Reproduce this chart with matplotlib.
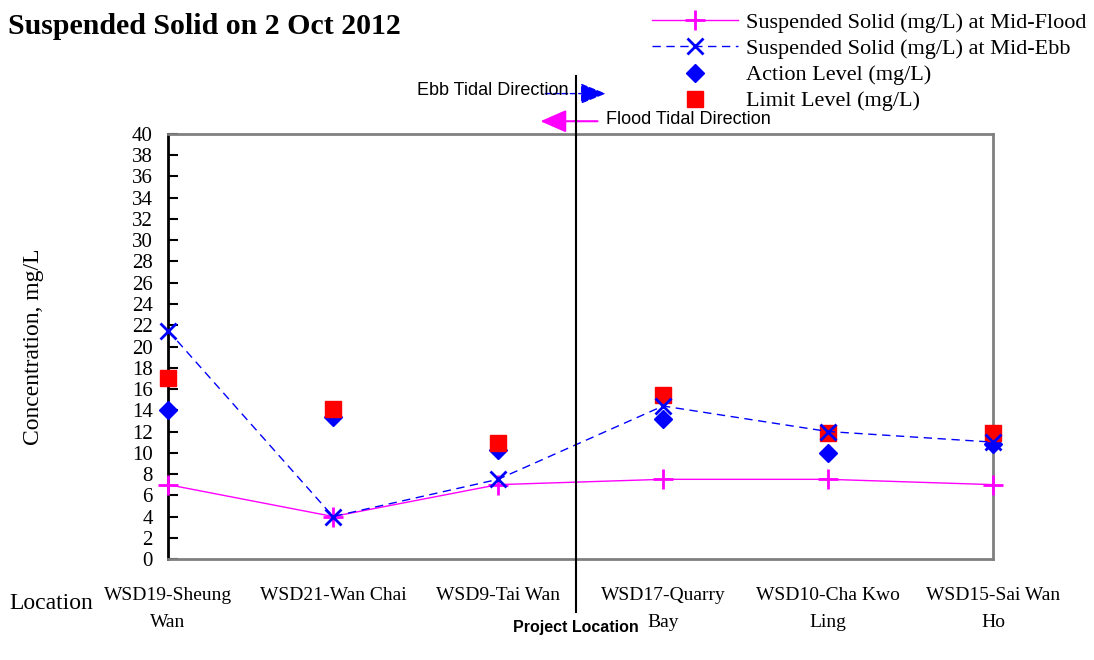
import matplotlib.pyplot as plt

plt.rcParams['font.family'] = ['Liberation Serif', 'DejaVu Serif']

# monitoring stations along the shore (west -> east)
stations = ["WSD19-Sheung\nWan", "WSD21-Wan Chai", "WSD9-Tai Wan",
            "WSD17-Quarry\nBay", "WSD10-Cha Kwo\nLing", "WSD15-Sai Wan\nHo"]
ss_flood = [7.0, 4.0, 7.0, 7.5, 7.5, 7.0]
ss_ebb = [21.5, 4.0, 7.5, 14.4, 12.0, 11.0]
action_level = [14.0, 13.4, 10.3, 13.2, 10.0, 10.8]
limit_level = [17.0, 14.1, 10.9, 15.4, 11.9, 11.9]
project_x = 2.47  # project site lies between WSD9 and WSD17

x = list(range(len(stations)))

fig = plt.figure(figsize=(10.94, 6.6), dpi=100)
ax = fig.add_axes([0.1536, 0.153, 0.7541, 0.644])

l1, = ax.plot(x, ss_flood, color="#ff00ff", lw=1, marker="+", ms=14, mew=2,
              clip_on=False, zorder=4)
l2, = ax.plot(x, ss_ebb, color="#0000ff", lw=1, ls=(0, (6, 4)), marker="x",
              ms=12, mew=2, clip_on=False, zorder=4)
l3, = ax.plot(x, action_level, ls="", marker="D", ms=9, color="#0000ff",
              clip_on=False, zorder=3)
l4, = ax.plot(x, limit_level, ls="", marker="s", ms=12, color="#ff0000",
              clip_on=False, zorder=3)

ax.set_xlim(0, 5)
ax.set_ylim(0, 40)
ax.set_yticks(range(0, 41, 2))
ax.tick_params(axis="y", direction="in", length=7, width=1.5, labelsize=15, pad=11)
ax.set_xticks(x)
ax.set_xticklabels(stations, fontsize=14, linespacing=1.75)
ax.tick_params(axis="x", length=0, pad=20)

for side in ["top", "right", "bottom"]:
    ax.spines[side].set_color("#808080")
    ax.spines[side].set_linewidth(2)
ax.spines["left"].set_color("black")
ax.spines["left"].set_linewidth(2)

ax.set_ylabel("Concentration, mg/L", fontsize=17)
ax.yaxis.set_label_coords(-0.15, 0.5)

# project location marker line running above and below the plot
ax.plot([project_x, project_x], [-5, 45.5], color="black", lw=1.5,
        clip_on=False, zorder=5)
ax.text(project_x, -6.4, "Project Location", family="Liberation Sans",
        fontweight="bold", fontsize=11.5, ha="center", va="center")

# tidal direction arrows
ax.annotate("", xy=(2.67, 43.8), xytext=(2.27, 43.8), annotation_clip=False,
            arrowprops=dict(arrowstyle="-|>,head_length=1.6,head_width=0.65",
                            color="#0000ff", lw=1, ls=(0, (4, 2))))
ax.text(2.43, 44.1, "Ebb Tidal Direction", family="Liberation Sans",
        fontsize=13, ha="right", va="center")
ax.annotate("", xy=(2.24, 41.2), xytext=(2.62, 41.2), annotation_clip=False,
            arrowprops=dict(arrowstyle="-|>,head_length=1.6,head_width=0.7",
                            color="#ff00ff", lw=1.5))
ax.text(2.655, 41.4, "Flood Tidal Direction", family="Liberation Sans",
        fontsize=13, ha="left", va="center")

fig.text(0.007, 0.96, "Suspended Solid on 2 Oct 2012", fontsize=21.5,
         fontweight="bold", ha="left", va="center")
fig.text(0.009, 0.085, "Location", fontsize=17, ha="left", va="center")

fig.legend([l1, l2, l3, l4],
           ["Suspended Solid (mg/L) at Mid-Flood",
            "Suspended Solid (mg/L) at Mid-Ebb",
            "Action Level (mg/L)", "Limit Level (mg/L)"],
           loc="upper right", bbox_to_anchor=(0.993, 0.981), frameon=False,
           fontsize=16, handlelength=3.9, handletextpad=0.35,
           labelspacing=0.25, borderaxespad=0.0, borderpad=0.0)

fig.savefig("out.png", dpi=100)
